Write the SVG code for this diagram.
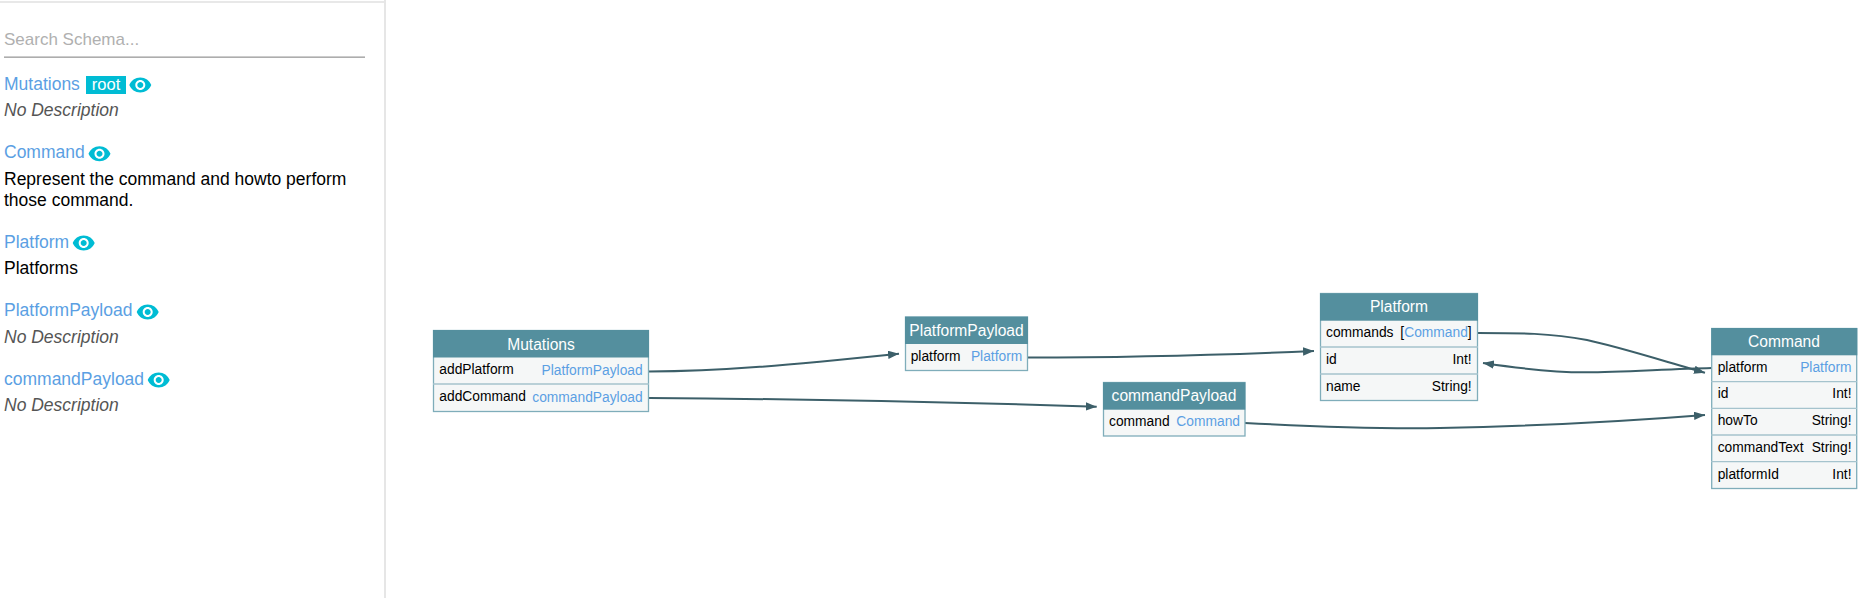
<svg xmlns="http://www.w3.org/2000/svg" xmlns:xlink="http://www.w3.org/1999/xlink" width="1872" height="598" viewBox="0 0 1872 598">
<style>
text{font-family:"Liberation Sans",Arial,sans-serif}
.link{font-size:17.5px;fill:#5b9fe3}
.desc{font-size:17.5px;fill:#000}
.none{font-size:17.5px;fill:#555;font-style:italic}
.title{font-size:15.6px;fill:#fff;text-anchor:middle}
.f{font-size:13.8px;fill:#000}
.t{font-size:13.8px;fill:#000;text-anchor:end}
.b{fill:#5b9fe3}
.box{fill:#f5f7f7;stroke:#7fadba;stroke-width:1.3}
.head{fill:#548f9e}
.div{stroke:#a5c3cd;stroke-width:1.3}
.edge{fill:none;stroke:#3c5f69;stroke-width:2;marker-end:url(#arr)}
</style>
<defs>
<marker id="arr" markerUnits="userSpaceOnUse" markerWidth="12" markerHeight="9" refX="11" refY="4.2" orient="auto"><path d="M0 0L11 4.2L0 8.4z" fill="#3c5f69"/></marker>
<path id="eye" fill="#00bcd4" fill-rule="evenodd" d="M12 4.5C7 4.5 2.73 7.61 1 12c1.73 4.39 6 7.5 11 7.5s9.27-3.11 11-7.5c-1.73-4.39-6-7.5-11-7.5zM12 17c-2.76 0-5-2.24-5-5s2.24-5 5-5 5 2.24 5 5-2.24 5-5 5zm0-8c-1.66 0-3 1.34-3 3s1.34 3 3 3 3-1.34 3-3-1.34-3-3-3z"/>
</defs>
<rect width="1872" height="598" fill="#fff"/>
<g id="sidebar">
<rect x="0" y="1" width="385" height="2" fill="#e8e8e8"/>
<rect x="384" y="0" width="2" height="598" fill="#e6e6e6"/>
<text x="4" y="45" style="font-size:17px;fill:#b0b0b0">Search Schema...</text>
<rect x="4" y="56.5" width="361" height="1.3" fill="#999"/>
<text class="link" x="4" y="90">Mutations</text>
<rect x="86" y="76" width="40" height="18" fill="#00bcd4"/>
<text x="106" y="90" text-anchor="middle" style="font-size:16.5px;fill:#fff">root</text>
<use xlink:href="#eye" href="#eye" x="128.3" y="73"/>
<text class="none" x="4" y="115.5">No Description</text>
<text class="link" x="4" y="157.5">Command</text>
<use xlink:href="#eye" href="#eye" x="87.5" y="141.7"/>
<text class="desc" x="4" y="184.5">Represent the command and howto perform</text>
<text class="desc" x="4" y="205.5">those command.</text>
<text class="link" x="4" y="248">Platform</text>
<use xlink:href="#eye" href="#eye" x="71.7" y="231"/>
<text class="desc" x="4" y="274">Platforms</text>
<text class="link" x="4" y="316">PlatformPayload</text>
<use xlink:href="#eye" href="#eye" x="135.7" y="300"/>
<text class="none" x="4" y="343">No Description</text>
<text class="link" x="4" y="385">commandPayload</text>
<use xlink:href="#eye" href="#eye" x="146.7" y="368"/>
<text class="none" x="4" y="411">No Description</text>
</g>
<g id="connectors">
<path class="edge" d="M649 371.5C720 371.5 790 365 899 353.7"/>
<path class="edge" d="M649 398C800 399 950 402 1096.7 406.7"/>
<path class="edge" d="M1028 357.5C1120 357.5 1220 355 1314 351"/>
<path class="edge" d="M1245 423C1320 427 1380 429 1440 428C1540 426 1630 421 1705 415"/>
<path class="edge" d="M1478 333C1520 333 1550 333 1587 340C1620 347 1670 363 1705 372.7"/>
<path class="edge" d="M1711.7 368C1670 369 1620 372 1587 372.3C1560 372.5 1530 370 1483 363"/>
</g>
<g id="node-Mutations">
<rect class="box" x="433.5" y="330.5" width="215" height="81"/>
<rect class="head" x="433" y="330" width="216" height="27.5"/>
<line class="div" x1="433" y1="384" x2="649" y2="384"/>
<text class="title" x="541" y="349.5">Mutations</text>
<text class="f" x="439.3" y="374">addPlatform</text><text class="t b" x="642.7" y="375">PlatformPayload</text>
<text class="f" x="439.3" y="401">addCommand</text><text class="t b" x="642.7" y="402">commandPayload</text>
</g>
<g id="node-PlatformPayload">
<rect class="box" x="905.5" y="317" width="122" height="53.5"/>
<rect class="head" x="905" y="316.7" width="123" height="27.3"/>
<text class="title" x="966.5" y="335.5">PlatformPayload</text>
<text class="f" x="910.7" y="361">platform</text><text class="t b" x="1022.3" y="361">Platform</text>
</g>
<g id="node-commandPayload">
<rect class="box" x="1103.5" y="382.5" width="141.5" height="53.5"/>
<rect class="head" x="1103" y="382.3" width="142.3" height="27.4"/>
<text class="title" x="1174" y="401">commandPayload</text>
<text class="f" x="1109" y="425.5">command</text><text class="t b" x="1240" y="426">Command</text>
</g>
<g id="node-Platform">
<rect class="box" x="1320.5" y="293.5" width="157" height="107"/>
<rect class="head" x="1320" y="293.3" width="158" height="27.4"/>
<line class="div" x1="1320" y1="347" x2="1478" y2="347"/>
<line class="div" x1="1320" y1="374" x2="1478" y2="374"/>
<text class="title" x="1399" y="312">Platform</text>
<text class="f" x="1326" y="337">commands</text><text class="t" x="1471.7" y="337">[<tspan class="b">Command</tspan>]</text>
<text class="f" x="1326" y="364">id</text><text class="t" x="1471.7" y="364">Int!</text>
<text class="f" x="1326" y="391">name</text><text class="t" x="1471.7" y="391">String!</text>
</g>
<g id="node-Command">
<rect class="box" x="1711.7" y="328.5" width="145" height="160"/>
<rect class="head" x="1711.3" y="328" width="146" height="27.3"/>
<line class="div" x1="1711" y1="381.7" x2="1857" y2="381.7"/>
<line class="div" x1="1711" y1="408.3" x2="1857" y2="408.3"/>
<line class="div" x1="1711" y1="435" x2="1857" y2="435"/>
<line class="div" x1="1711" y1="461.7" x2="1857" y2="461.7"/>
<text class="title" x="1784" y="347">Command</text>
<text class="f" x="1717.7" y="371.5">platform</text><text class="t b" x="1851.5" y="372">Platform</text>
<text class="f" x="1717.7" y="398">id</text><text class="t" x="1851.5" y="398">Int!</text>
<text class="f" x="1717.7" y="425">howTo</text><text class="t" x="1851.5" y="425">String!</text>
<text class="f" x="1717.7" y="451.7">commandText</text><text class="t" x="1851.5" y="451.7">String!</text>
<text class="f" x="1717.7" y="478.5">platformId</text><text class="t" x="1851.5" y="478.5">Int!</text>
</g>
</svg>
